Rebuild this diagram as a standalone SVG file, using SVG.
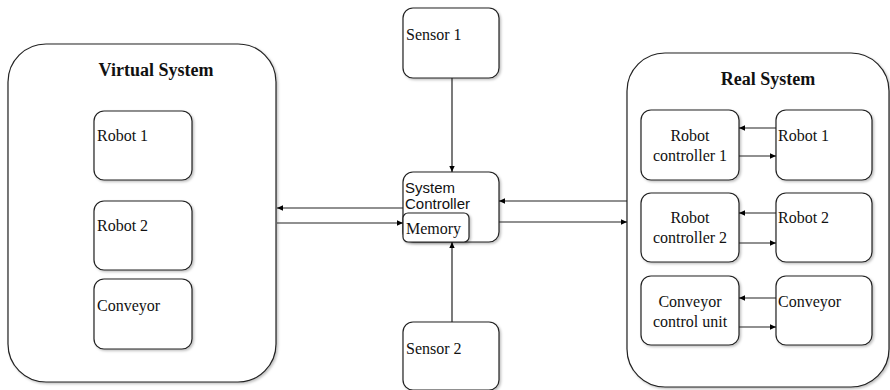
<svg xmlns="http://www.w3.org/2000/svg" width="890" height="390" viewBox="0 0 890 390">
  <defs>
    <marker id="arr" viewBox="0 0 10 10" refX="9" refY="5" markerWidth="7" markerHeight="7" orient="auto" markerUnits="userSpaceOnUse">
      <path d="M0,1 L9,5 L0,9 Z" fill="#000"/>
    </marker>
    <filter id="sh" x="-10%" y="-10%" width="130%" height="130%">
      <feDropShadow dx="1.5" dy="1.5" stdDeviation="0.8" flood-color="#000" flood-opacity="0.25"/>
    </filter>
  </defs>
  <style>
    .box { fill: #fff; stroke: #222; stroke-width: 1.2; filter: url(#sh); }
    .t { font-family: "Liberation Serif", serif; font-size: 16px; fill: #111; }
    .ts { font-family: "Liberation Sans", sans-serif; font-size: 15px; fill: #111; }
    .h { font-family: "Liberation Serif", serif; font-size: 18px; font-weight: bold; fill: #111; text-anchor: middle; }
    .c { text-anchor: middle; }
    .ln { stroke: #222; stroke-width: 1.2; fill: none; marker-end: url(#arr); }
  </style>
  <rect width="890" height="390" fill="#fff"/>

  <g id="virtual-system">
    <rect class="box" x="8" y="44" width="268" height="338" rx="38"/>
    <text class="h" x="156" y="76">Virtual System</text>
  </g>
  <g id="v-robot1">
    <rect class="box" x="94" y="111" width="98" height="69" rx="10"/>
    <text class="t" x="97" y="141">Robot 1</text>
  </g>
  <g id="v-robot2">
    <rect class="box" x="94" y="201" width="98" height="69" rx="10"/>
    <text class="t" x="97" y="231">Robot 2</text>
  </g>
  <g id="v-conveyor">
    <rect class="box" x="94" y="279" width="98" height="70" rx="10"/>
    <text class="t" x="97" y="311">Conveyor</text>
  </g>

  <g id="sensor1">
    <rect class="box" x="403" y="8" width="96" height="70" rx="10"/>
    <text class="t" x="406" y="40">Sensor 1</text>
  </g>
  <g id="system-controller">
    <rect class="box" x="403" y="172" width="96" height="70" rx="10"/>
    <text class="ts" x="405" y="193">System</text>
    <text class="ts" x="405" y="209">Controller</text>
  </g>
  <g id="memory">
    <rect class="box" x="403" y="213" width="66" height="29" rx="5"/>
    <text class="t" x="406" y="234">Memory</text>
  </g>
  <g id="sensor2">
    <rect class="box" x="403" y="322" width="96" height="68" rx="10"/>
    <text class="t" x="406" y="354">Sensor 2</text>
  </g>

  <g id="real-system">
    <rect class="box" x="627" y="53" width="262" height="334" rx="38"/>
    <text class="h" x="768" y="85">Real System</text>
  </g>
  <g id="robot-controller1">
    <rect class="box" x="641" y="110" width="98" height="70" rx="10"/>
    <text class="t c" x="690" y="141">Robot</text>
    <text class="t c" x="690" y="161">controller 1</text>
  </g>
  <g id="r-robot1">
    <rect class="box" x="776" y="110" width="96" height="70" rx="10"/>
    <text class="t" x="778" y="141">Robot 1</text>
  </g>
  <g id="robot-controller2">
    <rect class="box" x="641" y="193" width="98" height="69" rx="10"/>
    <text class="t c" x="690" y="223">Robot</text>
    <text class="t c" x="690" y="243">controller 2</text>
  </g>
  <g id="r-robot2">
    <rect class="box" x="776" y="193" width="96" height="69" rx="10"/>
    <text class="t" x="778" y="223">Robot 2</text>
  </g>
  <g id="conveyor-control-unit">
    <rect class="box" x="641" y="276" width="98" height="69" rx="10"/>
    <text class="t c" x="690" y="307">Conveyor</text>
    <text class="t c" x="690" y="327">control unit</text>
  </g>
  <g id="r-conveyor">
    <rect class="box" x="776" y="276" width="96" height="69" rx="10"/>
    <text class="t" x="778" y="307">Conveyor</text>
  </g>

  <g id="connectors">
    <line class="ln" x1="452" y1="78" x2="452" y2="172"/>
    <line class="ln" x1="452" y1="322" x2="452" y2="242"/>
    <line class="ln" x1="403" y1="208" x2="277" y2="208"/>
    <line class="ln" x1="277" y1="223" x2="403" y2="223"/>
    <line class="ln" x1="627" y1="201" x2="499" y2="201"/>
    <line class="ln" x1="499" y1="222" x2="627" y2="222"/>
    <line class="ln" x1="776" y1="128" x2="739" y2="128"/>
    <line class="ln" x1="739" y1="156" x2="776" y2="156"/>
    <line class="ln" x1="776" y1="213" x2="739" y2="213"/>
    <line class="ln" x1="739" y1="243" x2="776" y2="243"/>
    <line class="ln" x1="776" y1="298" x2="739" y2="298"/>
    <line class="ln" x1="739" y1="327" x2="776" y2="327"/>
  </g>
</svg>
